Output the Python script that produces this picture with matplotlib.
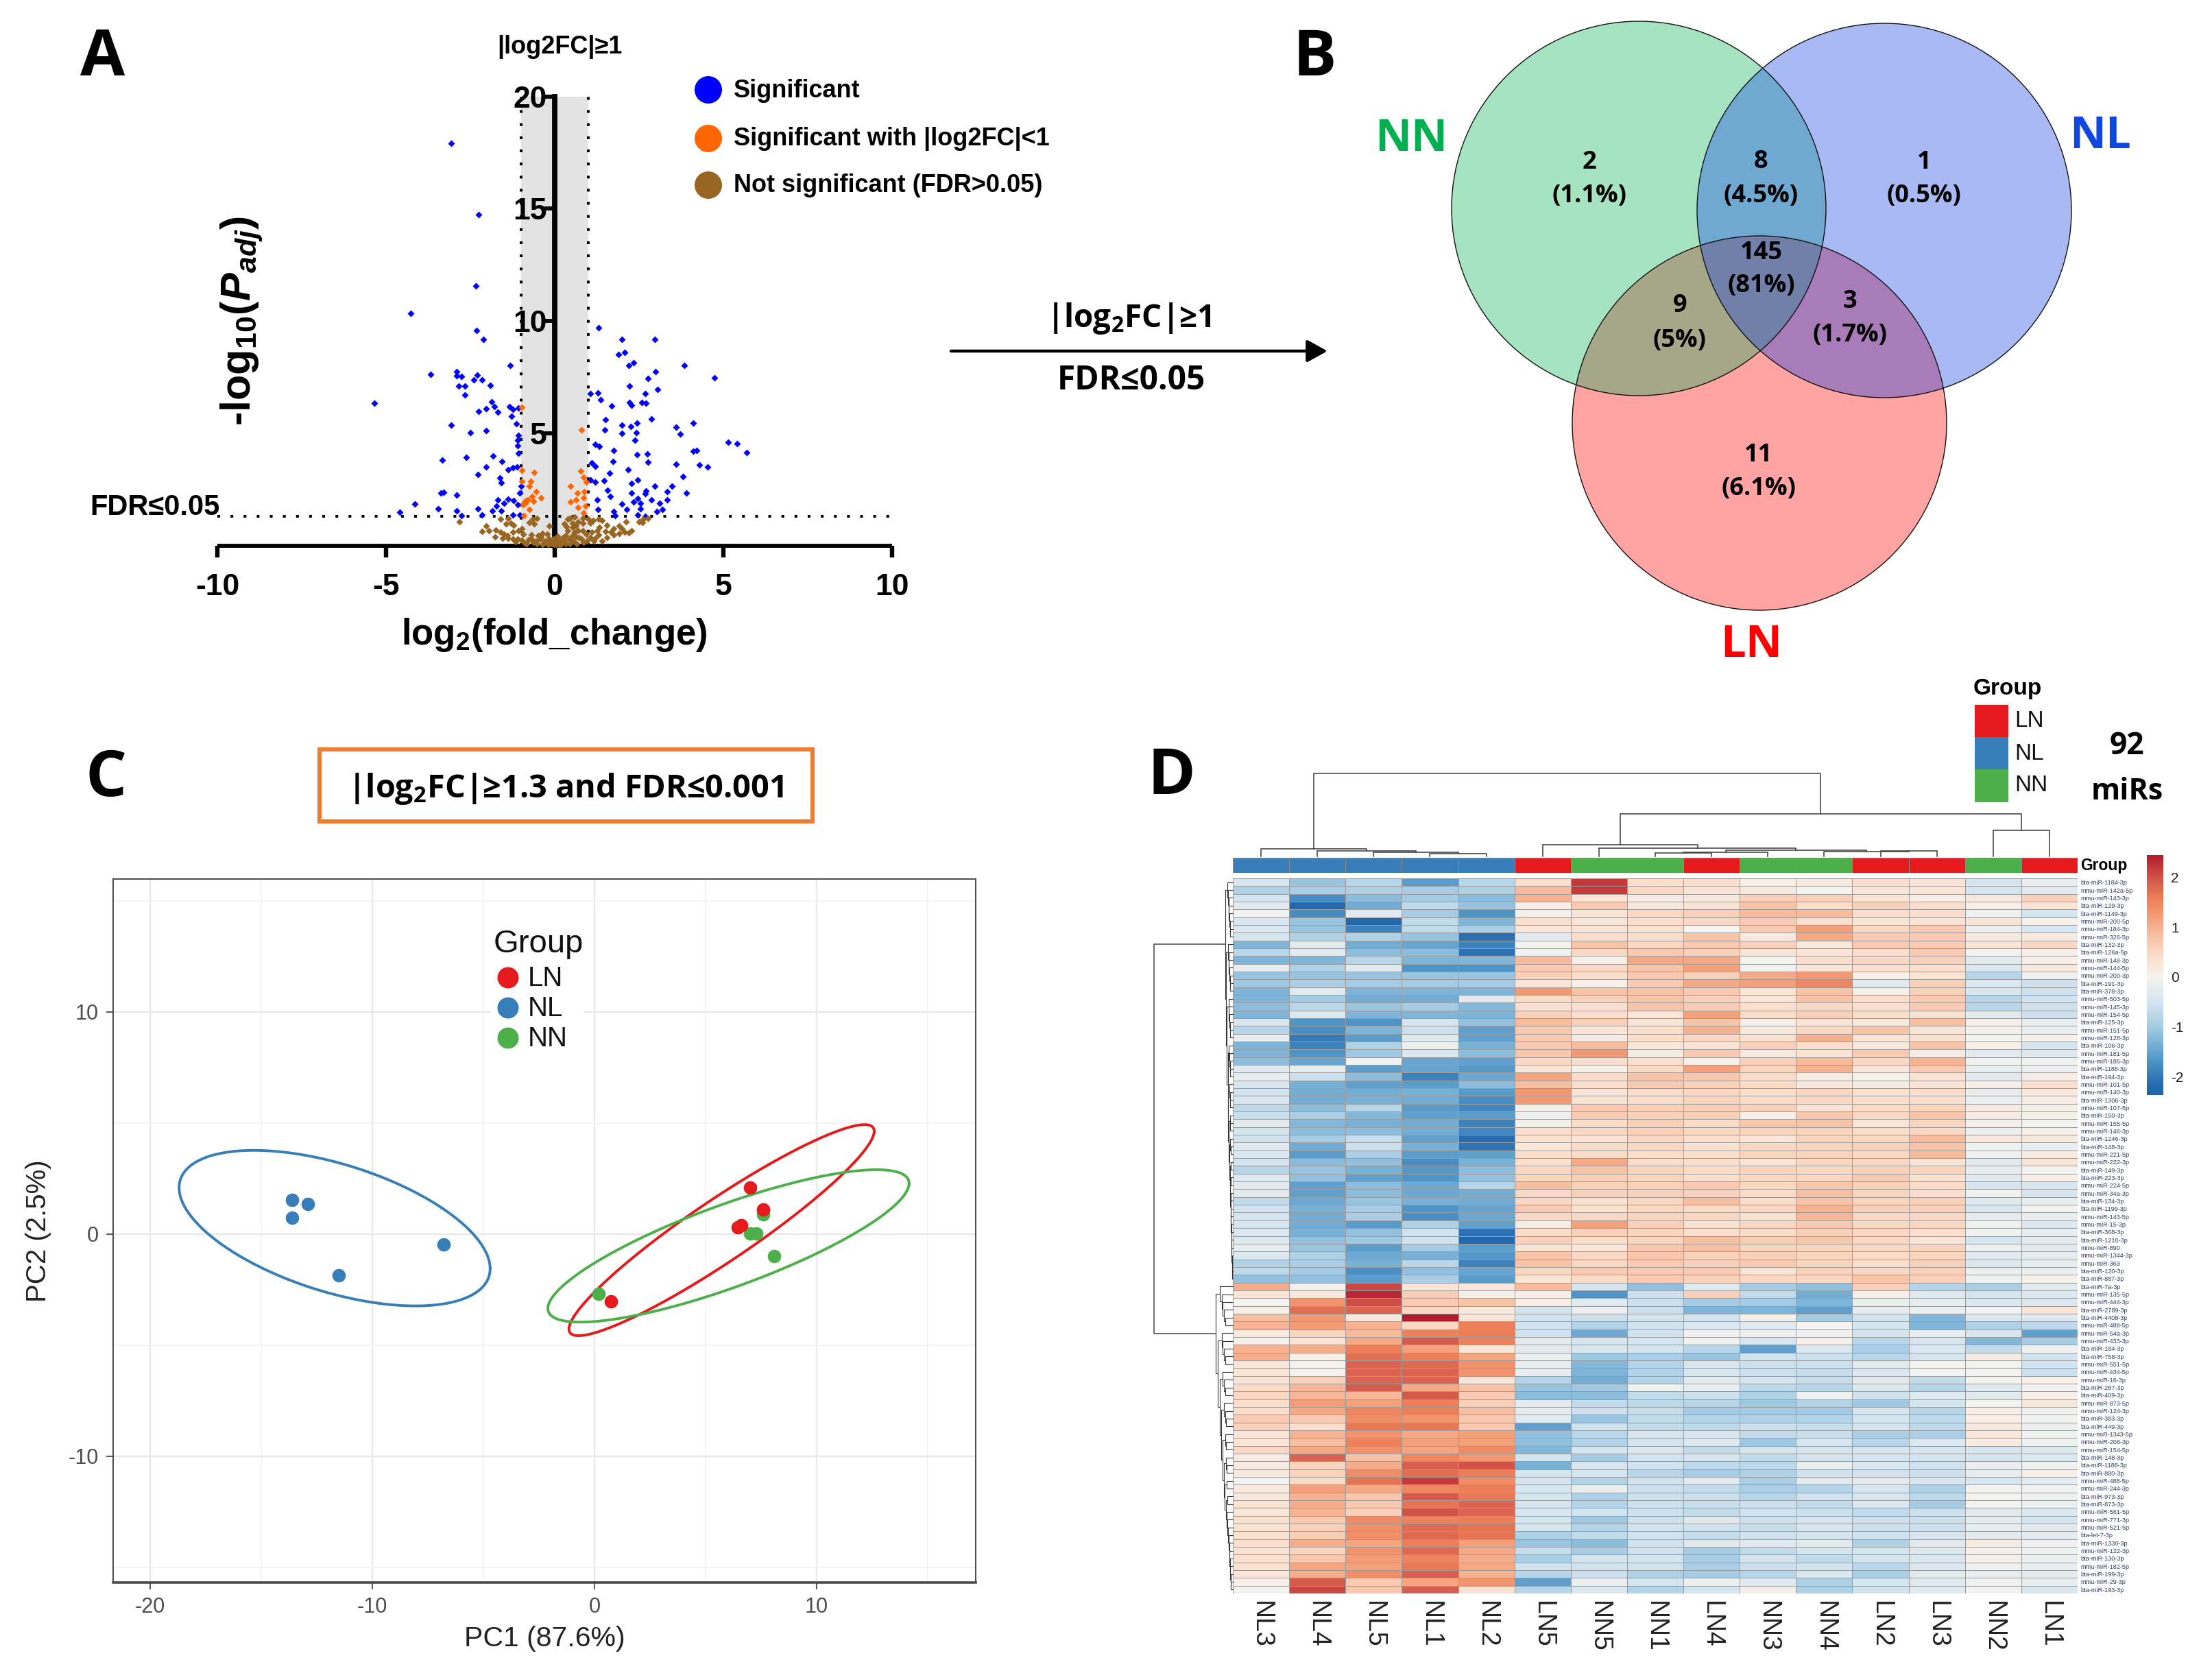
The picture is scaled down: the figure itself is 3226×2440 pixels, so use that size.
import numpy as np
import matplotlib
matplotlib.use("Agg")
import matplotlib.pyplot as plt
from matplotlib.colors import LinearSegmentedColormap, ListedColormap
from matplotlib.patches import Circle, Rectangle, Polygon

W, H = 3226, 2440
plt.rcParams.update({
    "font.family": ["Liberation Sans", "DejaVu Sans"],
    "axes.unicode_minus": False,
    "mathtext.fontset": "custom",
    "mathtext.rm": "Open Sans:bold",
    "mathtext.bf": "Liberation Sans:bold",
    "mathtext.it": "Liberation Sans:italic",
    "mathtext.bfit": "Liberation Sans:italic:bold",
})

# ---------- Panel A: volcano (log2FC, -log10 Padj) ----------
SIG_POINTS = [(-3.07,17.9),(-2.26,14.75),(-2.33,11.58),(-4.26,10.35),(-2.32,9.58),(-2.12,9.2),(1.30,9.71),(2.0,9.2),(2.96,9.2),(-5.35,6.35),(-4.6,1.5),
 (-3.68,7.63),(-2.90,7.76),(-2.91,7.58),(-2.76,7.53),(-2.30,7.60),(-2.39,7.38),(-2.15,7.38),(-1.92,7.14),(-2.85,7.10),(-2.66,7.11),(-2.66,6.71),(-1.32,8.04),
 (-1.88,6.42),(-1.78,6.18),(-1.68,5.96),(-2.04,6.09),(-2.26,5.97),(-1.34,6.2),(-1.24,6.08),(-1.07,6.13),(-1.29,5.76),(-1.14,5.43),(-3.07,5.38),(-2.51,5.05),
 (-2.04,5.14),(-1.07,4.92),(-1.10,4.71),(-1.10,4.46),(-1.07,4.12),(-3.34,3.80),(-2.63,3.94),(-1.83,4.0),(-1.57,3.76),(-2.04,3.51),(-2.27,3.18),(-1.38,3.38),
 (-1.24,3.48),(-1.12,3.50),(-1.63,3.02),(-1.59,2.82),(-3.37,2.36),(-3.30,2.37),(-2.90,2.25),(-1.68,2.05),(-1.38,2.09),(-1.21,2.0),(-1.51,1.90),(-1.04,2.36),(-1.0,2.66),
 (-1.10,1.84),(-1.73,1.76),(-1.85,1.56),(-3.46,1.64),(-2.90,1.56),(-2.28,1.64),(-1.59,1.56),(-4.15,1.86),(-2.15,1.36),(-2.76,1.33),(-1.24,1.36),(-1.04,1.38),
 (1.90,8.50),(2.08,8.61),(2.20,8.04),(2.34,8.15),(2.99,7.74),(3.84,8.04),(2.77,7.45),(4.74,7.48),(2.22,7.11),(3.05,6.96),(1.06,6.78),(1.29,6.82),(2.68,6.78),
 (1.36,6.50),(2.22,6.37),(2.27,6.25),(2.59,6.37),(2.70,6.35),(1.69,6.24),(1.51,5.61),(2.87,5.64),(2.0,5.37),(2.26,5.31),(2.43,5.46),(1.48,5.17),(2.0,4.99),
 (2.41,5.02),(2.38,4.70),(3.59,5.28),(4.11,5.45),(3.71,4.96),(1.19,4.51),(1.33,4.41),(1.74,4.23),(5.15,4.60),(5.40,4.56),(5.70,4.15),(2.44,4.05),(2.74,4.10),
 (4.11,4.22),(4.21,4.25),(2.77,3.72),(1.73,3.76),(1.10,3.69),(1.20,3.53),(3.59,3.63),(4.28,3.59),(4.54,3.51),(2.17,3.38),(1.62,3.22),(3.81,3.07),(1.06,2.92),
 (1.20,2.85),(1.46,2.89),(2.45,2.92),(2.28,2.77),(2.96,2.66),(3.48,2.64),(1.56,2.48),(2.28,2.36),(2.70,2.44),(3.33,2.41),(3.91,2.34),(1.65,2.20),(2.69,2.31),
 (1.27,2.05),(2.45,2.10),(2.34,1.95),(2.86,2.05),(3.33,2.05),(2.55,1.90),(3.10,1.88),(2.0,1.86),(2.13,1.61),(2.55,1.64),(1.28,1.62),(3.2,1.61),(3.03,1.54),
 (1.75,1.52),(1.78,1.33),(2.45,1.36),(2.68,1.31)]
LOWFC_POINTS = [(-.98,6.15),(.79,5.17),(-.98,3.36),(-.60,3.26),(.77,3.34),(.86,3.05),(.93,2.84),(-.98,2.87),(-.71,2.87),(-.75,2.66),(.47,2.64),(-.54,2.41),
 (-.68,2.20),(.67,2.36),(.87,2.41),(-.41,2.13),(-.80,2.05),(-.64,1.98),(-.90,1.95),(.64,2.05),(.85,2.13),(.47,1.95),(-.93,1.82),(.91,1.77),(.70,1.71),
 (-.76,1.61),(-.92,1.33),(.86,1.45),(-.85,2.0),(-.87,1.9)]
NS_POINTS = [(-2.83,1.08),(-1.61,1.18),(-1.38,1.23),(-1.31,1.02),(-1.21,.92),(-.66,1.18),(-.53,1.21),(-.60,.97),(-2.04,.87),(-2.15,.64),(-1.96,.67),(-1.75,.70),
 (-1.77,.39),(-1.51,.53),(-1.54,.33),(-1.38,.33),(-1.24,.61),(-1.07,.67),(-.97,.77),(-.93,.51),(-1.10,.31),(-1.24,.29),(-.97,.23),(-.77,.26),(-.63,.15),(-.49,.46),
 (-.36,.56),(-.16,.87),(-.22,.51),(-.43,.31),(-.29,.20),(-.16,.31),(-.09,.10),(-.02,.05),(-.36,.05),(-.53,.10),(-.83,.10),(-.19,.05),(.05,.05),(.18,.20),(.25,.36),
 (.28,.97),(.45,1.23),(.59,1.28),(.52,1.02),(.69,1.08),(.83,1.02),(.83,1.23),(1.0,1.18),(1.13,1.13),(1.30,1.18),(1.40,1.13),(.52,.82),(.39,.67),(.69,.67),(.83,.67),
 (.52,.46),(.32,.46),(.72,.36),(.93,.51),(.45,.10),(.18,.05),(.66,.10),(.86,.15),(1.20,.33),(1.06,.36),(1.40,.20),(1.54,.36),(1.67,.61),(1.33,.82),(1.54,.92),
 (1.74,.77),(1.91,.87),(1.91,.56),(2.11,1.08),(2.08,.61),(2.28,.67),(2.49,1.08),(2.62,1.18),(2.76,1.23),(.39,1.18),(.12,.05),(.32,.08),(.55,.22),(-.7,.3),(-.55,.2),
 (-.9,.12),(-1.15,.18),(-.25,.12),(-.12,.2),(.1,.28),(.28,.22),(.42,.3),(.62,.4),(.8,.3),(.95,.2),(1.15,.2),(1.3,.5),(1.1,.62),(1.25,.68),(-1.4,.45),(-1.6,.6),
 (-.4,.4),(-.7,.5),(.02,.15),(.08,.42),(-.05,.32),(1.5,.65),(1.75,.5),(2.0,.75),(2.2,.58),(2.6,1.05),(.58,.62),(.35,.85),(.62,.9),(1.05,1.0),(-1.45,.98),(-.75,1.05)]
SIG_COLOR, LOWFC_COLOR, NS_COLOR = "#0000ff", "#ff6600", "#996622"
VOLCANO_LEGEND = ["Significant", "Significant with |log2FC|<1", "Not significant (FDR>0.05)"]
VOLCANO_XTICKS = [-10, -5, 0, 5, 10]
VOLCANO_YTICKS = [5, 10, 15, 20]

# ---------- Panel B: Venn ----------
VENN_LABELS = [("2", "(1.1%)", 2318, 233, 282), ("8", "(4.5%)", 2568, 232, 282), ("1", "(0.5%)", 2806, 233, 282),
               ("145", "(81%)", 2569, 365, 413), ("9", "(5%)", 2450, 442, 493), ("3", "(1.7%)", 2698, 436, 485),
               ("11", "(6.1%)", 2565, 660, 709)]

# ---------- Panel C: PCA ----------
PCA_LN = [(7.0, 2.1), (7.6, 1.1), (6.6, .39), (6.44, .31), (.75, -3.02)]
PCA_NL = [(-13.6, 1.53), (-12.9, 1.37), (-13.6, .75), (-11.5, -1.84), (-6.8, -.45)]
PCA_NN = [(7.6, .9), (7.0, .02), (7.27, .04), (8.07, -1.0), (.17, -2.69)]
# centre x, centre y, half extent x, half extent y, correlation
ELLIPSE_LN = (5.72, .18, 6.87, 4.75, .937)
ELLIPSE_NL = (-11.7, .27, 7.0, 3.5, -.52)
ELLIPSE_NN = (6.03, -.53, 8.13, 3.43, .82)
GROUP_COLORS = {"LN": "#e41a1c", "NL": "#377eb8", "NN": "#4daf4a"}
PCA_TICKS_X = [-20, -10, 0, 10]
PCA_TICKS_Y = [-10, 0, 10]

# ---------- Panel D: heatmap ----------
SAMPLES = ["NL3","NL4","NL5","NL1","NL2","LN5","NN5","NN1","LN4","NN3","NN4","LN2","LN3","NN2","LN1"]
HEAT_UP = [
[-.45,-1.1,-.8,-1.6,-.8,.4,2.2,.4,.4,.1,.2,.4,.3,-.5,-.2],
[-.9,-.95,-.9,-1,-.9,.9,2.2,.5,.3,.2,0,.3,.3,-.5,-.3],
[-.5,-1.8,-1.2,-1,-1.2,1.0,.3,.15,.2,.6,.6,.3,.1,.2,.6],
[-.3,-2.2,-1.4,-.7,-1.1,.1,.7,.2,.3,.8,.4,.6,.4,.1,.3],
[-.05,-1.8,-.3,-1,-1.7,.05,.3,.5,.6,.9,.9,.4,.4,-.1,-.5],
[-.45,-1.1,-2.2,-.7,-1.3,.4,.3,.4,.5,.7,.4,.3,.3,.3,.05],
[-.4,-1.1,-1.9,-.7,-.95,.25,.3,.35,0,.7,1.2,.5,.7,-.15,-.45],
[-.5,-.9,-.9,-1.1,-2.1,-.3,.4,.4,.8,.2,1.1,.7,.7,.2,.2],
[-1.3,-.3,-1.4,-1.5,-1.9,0,.8,.5,.7,.6,.2,.7,.7,.3,.5],
[-.8,-.3,-1.2,-1.2,-2.1,-.1,.5,.7,.6,.3,.3,.4,.7,-.05,.1],
[-1.3,-1.3,-.8,-1.3,-1.3,.9,.1,1.1,1.1,0,.4,.5,.6,-.3,.1],
[-.2,-.9,-.3,-1.7,-1.7,.7,.5,.8,1.2,-.1,.3,.4,.4,-.4,.2],
[-1.1,-1.1,-1.1,-1.1,-1.1,.6,.4,.7,.6,1.1,1.3,.1,.3,-.8,-.1],
[-1.05,-.95,-1,-1,-1,.3,.05,.7,1.1,1.2,1.5,-.3,.6,-.4,-.6],
[-1.3,-.3,-1.3,-1.3,-1.3,1.3,.8,.8,.7,.3,.8,.1,.6,-.45,-.6],
[-1.3,-1,-1.4,-1.4,-.3,.45,.6,.8,.6,.3,.8,.4,.7,-.8,-.55],
[-1.2,-.8,-1.1,-1,-1.25,.4,.4,.8,.7,.4,.5,.4,.7,-.8,-.6],
[-1.3,-.4,-1.3,-1.3,-1.3,.6,.4,.3,1.2,.45,.6,.45,.35,-.3,-.6],
[-.45,-1.7,-1.7,-.5,-1.15,.9,.6,.3,.8,.1,.3,.2,.85,.05,-.2],
[-.8,-1.75,-1.3,-.6,-1.55,.7,.3,.4,1,.2,.5,.8,.3,.05,-.2],
[-.2,-2,-1.6,-.35,-1.55,.7,.15,.4,.5,.35,1.0,.3,.35,-.05,.05],
[-1.3,-1.9,-.9,-.15,-1.35,.7,.9,.25,.3,.6,.4,.2,.8,.1,-.5],
[-1.3,-1.7,-1.05,-.45,-1.2,.75,1.3,.15,.7,.2,.3,.7,.15,-.3,-.35],
[-1.2,-1.5,-.1,-1.5,-1.55,.5,.4,.4,.05,.6,.9,.5,1.0,-.1,-.1],
[-.3,-.2,-1.6,-1.5,-1.65,.25,.05,.45,1.2,.55,1.0,.25,.7,-.2,-.15],
[-.25,-.6,-1.2,-1.9,-1.45,1.15,.45,.8,.75,.45,.15,.05,.35,-.3,.15],
[-.45,-1.35,-1.55,-1.6,-1.2,.85,.4,.7,.6,.45,.2,.15,.25,.1,.4],
[-.55,-1.4,-1.4,-1.35,-1.6,1.3,.3,.4,.5,.4,.5,.35,.4,-.2,.2],
[-.45,-1.4,-1.35,-1.4,-1.75,1.3,.35,.4,.55,.45,.5,.4,.4,-.15,.15],
[-.75,-1.2,-.8,-1.6,-1.85,.05,.7,.6,.65,.6,.3,.45,.55,.15,.1],
[-.65,-.95,-1.25,-1.55,-1.6,-.15,.7,.6,.65,.1,.75,.5,.8,.15,.05],
[-.3,-1.25,-1.35,-1.4,-1.9,.05,.45,.6,.45,.75,.8,.3,.55,.05,-.05],
[-.5,-1.2,-1.2,-1.4,-1.85,.4,.5,.6,.5,.55,.55,.45,.5,-.15,.05],
[-.55,-1,-.65,-1.55,-2.15,.35,.3,.5,.4,.25,.55,.5,.9,.2,.2],
[-.35,-1.4,-.6,-1.35,-2.05,.25,.45,.5,.35,.5,.55,.6,.8,-.1,-.2],
[-.4,-1.6,-.95,-1.6,-1.55,.4,.45,.4,.4,.55,.55,.5,.9,-.1,.15],
[-.5,-1.2,-1.15,-1.8,-1.35,.4,1.1,.4,.4,.3,.5,.5,.3,-.3,.3],
[-.85,-1.1,-1.35,-1.65,-1.2,.5,.8,.55,.45,.55,.5,.6,.55,-.25,-.05],
[-.35,-1.15,-1.55,-1.7,-1.15,.55,.6,.55,.4,.5,.5,.7,.35,-.3,.1],
[-.3,-1.55,-1.2,-1.45,-.8,.85,.6,.6,.7,.5,.75,.6,.45,-.5,-.45],
[-.3,-1.55,-1.2,-1.45,-1.4,.5,.6,.6,.6,.45,.85,.55,.4,-.1,-.45],
[-.7,-1.45,-1.1,-1.35,-1.4,.5,.35,.5,.85,.4,.8,.55,.6,-.35,-.2],
[-.55,-1.35,-1,-1.7,-1.5,.7,.35,.5,.45,.5,1.0,.6,.6,-.45,-.05],
[-.5,-1.4,-.95,-1.75,-1.45,.5,.5,.55,.5,.35,.95,.5,.5,-.25,-.2],
[-.5,-1.4,-1.6,-.9,-1.55,.15,1.2,.6,.35,.5,.7,.5,.5,-.1,-.4],
[-.4,-1.35,-1.15,-.55,-2.1,.45,.6,.55,.4,.45,.6,.5,.4,-.1,-.2],
[-.4,-1.15,-1.05,-.55,-2.2,.6,.45,.55,.85,.65,.75,.5,.3,-.5,-.3],
[-.25,-1.1,-1.6,-1,-1.6,.3,.25,.75,.85,.55,.55,.5,.55,-.15,-.3],
[-.4,-.9,-1.45,-1.35,-1.65,.8,.5,.75,.6,.6,.55,.45,.55,-.35,-.25],
[-.9,-.95,-1.35,-.8,-1.9,.8,.5,.7,.6,.7,.55,.4,.6,-.4,-.2],
[-.75,-1,-1.75,-1.15,-1.5,.5,.7,.7,.7,.3,.6,.5,.6,-.15,-.15],
[-1.15,-1.15,-1.6,-.95,-1.6,.3,.45,.7,.6,.5,.5,.8,.6,-.1,.05],
]
HEAT_DOWN = [
[1.05,.05,2.1,.3,.25,.9,-.5,-1.15,-.35,-1,-1.15,.6,-.85,-.95,-.3],
[.3,.2,2.35,.65,.05,.1,-1.7,-.6,.6,-.7,-1.4,.1,-.35,-.5,-.4],
[0,1.35,2.05,.7,.8,.1,-.35,-.6,-1,-1,-1.3,-.15,-.2,-.4,-.4],
[.1,1.75,1.85,.5,.2,-.5,-.15,-.6,-1.3,-1.3,-1.55,-.2,-.15,-.05,.3],
[.85,1.3,.2,2.45,.25,-.55,-.6,-.5,-.55,.05,-1,-.55,-1.25,-.4,-.35],
[1.0,1.25,1,.5,1.6,-.55,-.85,-.55,-.4,-.35,0,-.5,-1.3,-.9,-.75],
[.2,.55,.9,1.55,1.6,-.55,-1.45,-.55,-.1,-.1,-.1,-.5,-.2,-.45,-1.55],
[.1,.3,1.1,1.95,1.55,-.3,-.5,-.5,-.1,-.45,.05,-.8,-.5,-1.25,-1],
[1.0,1.05,1.6,1.2,.25,-.3,-.45,-.5,-.8,-1.55,-.4,-.95,-.4,-.7,-.1],
[1.05,.1,1.75,1.6,1.15,-.15,-1.05,-.95,-1.1,-.55,-.6,-.8,-.5,.15,-.55],
[.3,0,1.85,1.8,1.35,-.2,-1.25,-.85,-.45,-.6,-.6,-.3,0,-.05,-.55],
[.3,0,1.85,1.85,1.35,-.2,-1.3,-.85,-.45,-.6,-.65,-.4,-.05,-.05,-.6],
[.3,.6,1.85,1.85,.3,-.85,-1.4,-.85,-.3,-.5,-.65,-.3,-.7,-.05,.1],
[.45,.95,1.95,1.1,.8,-1.1,-1.05,-.1,-.2,-.75,-.8,-.4,-.8,-.35,-.05],
[.5,.95,.95,1.95,.7,-1.2,-1.2,-.7,-.6,-.9,-.1,-.55,-.35,-.3,.1],
[.4,1.25,1.2,1.6,.6,-.25,-.7,-.75,-.8,-1.05,-.85,-1.05,-.5,-.05,.25],
[.4,1.1,1.5,1.6,.85,-.25,-.6,-.65,-1,-1,-1,-.45,-.8,.1,-.1],
[.7,.7,1.45,1.35,.75,-.35,-1.1,-.7,-.85,-.9,-.85,-.5,-.75,.1,-.05],
[.6,.4,1.65,1.65,.7,-1.55,-.55,-.7,-.75,-.6,-.65,-.5,-.75,.2,-.15],
[.3,1.0,1.35,1.1,1.2,-1.15,-.8,-.5,-.45,-.7,-.65,-.95,-.95,.25,-.1],
[.3,.85,1.55,1.2,1.2,-1.15,-.85,-.5,-.35,-1.05,-.45,-.8,-.4,.15,-.1],
[.5,1.1,1.4,1.15,1.45,-1.25,-.5,-.4,-.7,-.5,-.5,-.5,-.5,-.5,-.4],
[.15,1.85,.8,1.5,1.3,-.5,-1,-.55,-.45,-.7,-.5,-.5,-.5,-.5,-.4],
[.15,.55,1.05,1.9,2.0,-1.35,-.45,-.55,-.75,-.75,-.2,-.4,-.55,-.15,-.1],
[.2,.55,1.45,1.75,1.6,-.5,-.5,-.8,-1,-.9,-.55,-.55,-.6,-.25,.1],
[-.05,.45,1.7,2.2,1.45,-.5,-.85,-.55,-.3,-.95,-.3,-.25,-.45,-.45,-.25],
[.2,1.2,1.1,1.5,1.6,-.45,-.2,-.6,-.7,-.95,-.85,-.5,-.9,-.05,-.1],
[.2,1,.75,1.95,1.65,-.5,-.9,-.6,-.6,-.8,-.55,-.45,-.75,0,-.1],
[.35,1.05,.7,1.7,1.85,-.5,-.85,-.6,-.65,-.6,-.7,-.4,-1,-.05,-.15],
[.25,1,.6,2,1.85,-.45,-.55,-.6,-.7,-.55,-.6,-.7,-.6,-.3,-.4],
[.35,.7,1.45,1.55,1.6,-.5,-1.05,-.6,-.3,-.6,-.5,-.6,-.6,-.25,-.5],
[.35,.6,1.4,1.8,1.7,-.5,-.85,-.55,-.55,-.65,-.45,-.6,-.6,-.25,-.3],
[.35,.65,1.4,1.8,1.7,-.9,-.7,-.55,-.65,-.55,-.5,-.55,-.45,-.3,-.25],
[.4,1.05,1.15,1.6,1.2,-1.1,-1.2,-.55,-.3,-.3,-.3,-.9,-.3,.15,-.1],
[.35,.55,1.35,1.8,1.1,-.65,-.95,-.55,-1,-.7,-.5,-.5,-.4,.05,-.1],
[.35,.75,1.25,1.55,1.05,-.95,-.5,-.5,-.95,-.5,-.7,-.5,-.4,.05,-.15],
[.35,1.15,1.2,1.65,1.1,-.55,-.55,-.55,-.95,-.6,-.55,-.8,-.4,-.1,-.2],
[.25,1.05,1.4,1.9,1,-.8,-.6,-.9,-1,-.8,-.4,-.95,-.3,-.2,-.25],
[.1,1.95,.7,1.15,1.35,-1.55,-.15,-.5,-.15,-.3,-.9,-.5,-.35,-.1,-.2],
[-.05,2.1,.75,1.9,.35,-.8,-.4,-.85,-.5,.05,-.9,-.55,-.3,-.05,-.45],
]
ROW_LABELS = ["bta-miR-1184-3p","mmu-miR-142a-5p","mmu-miR-143-3p","bta-miR-129-3p","bta-miR-1149-3p","mmu-miR-200-5p","mmu-miR-184-3p","mmu-miR-326-5p",
 "bta-miR-132-3p","bta-miR-126a-5p","mmu-miR-148-3p","mmu-miR-144-5p","mmu-miR-200-3p","bta-miR-191-3p","bta-miR-378-3p","mmu-miR-503-5p",
 "mmu-miR-145-3p","mmu-miR-154-5p","bta-miR-125-3p","mmu-miR-151-5p","mmu-miR-128-3p","bta-miR-106-3p","mmu-miR-181-5p","mmu-miR-186-3p",
 "bta-miR-1188-3p","bta-miR-194-3p","mmu-miR-101-5p","mmu-miR-140-3p","bta-miR-1306-3p","mmu-miR-107-5p","bta-miR-150-3p","mmu-miR-155-5p",
 "mmu-miR-146-3p","bta-miR-1246-3p","bta-miR-148-3p","mmu-miR-221-5p","mmu-miR-222-3p","bta-miR-149-3p","bta-miR-223-3p","mmu-miR-224-5p",
 "mmu-miR-34a-3p","bta-miR-134-3p","bta-miR-1199-3p","mmu-miR-143-5p","mmu-miR-15-3p","bta-miR-368-3p","bta-miR-1210-3p","mmu-miR-890",
 "mmu-miR-1344-3p","mmu-miR-363","bta-miR-120-3p","bta-miR-887-3p","bta-miR-7a-3p","mmu-miR-135-5p","mmu-miR-444-3p","bta-miR-2789-3p",
 "bta-miR-4408-3p","mmu-miR-488-5p","mmu-miR-54a-3p","mmu-miR-433-3p","bta-miR-164-3p","bta-miR-758-3p","mmu-miR-551-5p","mmu-miR-434-5p",
 "mmu-miR-16-3p","bta-miR-287-3p","bta-miR-409-3p","mmu-miR-873-5p","mmu-miR-124-3p","bta-miR-383-3p","bta-miR-449-3p","mmu-miR-1343-5p",
 "mmu-miR-206-3p","mmu-miR-154-5p","bta-miR-148-3p","bta-miR-1188-3p","bta-miR-880-3p","mmu-miR-488-5p","mmu-miR-244-3p","bta-miR-973-3p",
 "bta-miR-873-3p","mmu-miR-561-5p","mmu-miR-771-3p","mmu-miR-521-5p","bta-let-7-3p","bta-miR-1330-3p","mmu-miR-122-3p","bta-miR-130-3p",
 "mmu-miR-182-5p","bta-miR-199-3p","mmu-miR-29-3p","bta-miR-193-3p"]
# children (leaf column index or earlier merge id as "m<n>"), height above the annotation bar
TOP_TREE = [(3, 4, 4), (2, "m0", 6), (1, "m1", 8), (0, "m2", 11),
            (11, 12, 8), (10, "m4", 7), (7, 8, 5), ("m6", 9, 6), ("m7", "m5", 9), (6, "m8", 12), (5, "m9", 17),
            (13, 14, 38), ("m10", "m11", 62), ("m3", "m12", 121)]
CBAR_TICKS = [-2, -1, 0, 1, 2]
HEAT_ANCHORS = [(-2.37,"#2166ac"),(-2.2,"#2468ae"),(-1.7,"#4f94c6"),(-1.3,"#7fb5d8"),(-1.0,"#a5cce4"),(-.5,"#d5e5f0"),(0,"#f5f3f0"),
                (.4,"#fbdfcc"),(.8,"#f8c4a8"),(1.2,"#f4a07a"),(1.6,"#ec7f58"),(1.95,"#d45a4c"),(2.2,"#c53a3a"),(2.45,"#b01c2e")]

OS = ["Open Sans", "DejaVu Sans"]
fig = plt.figure(figsize=(W / 100, H / 100), dpi=100, facecolor="white")


def ax_px(x0, y0, x1, y1, **kw):
    return fig.add_axes([x0 / W, 1 - y1 / H, (x1 - x0) / W, (y1 - y0) / H], **kw)


ov = fig.add_axes([0, 0, 1, 1], zorder=10)
ov.set_xlim(0, W); ov.set_ylim(H, 0); ov.axis("off"); ov.patch.set_alpha(0)

# ---- Panel A ----
a = ax_px(317, 140.6, 1301, 796)
a.set_xlim(-10, 10); a.set_ylim(0, 20)
a.patch.set_alpha(0)
a.axvspan(-1, 1, color="#e3e3e3", lw=0, zorder=0)
for s in ["top", "right"]:
    a.spines[s].set_visible(False)
a.spines["left"].set_position(("data", 0))
a.spines["left"].set_linewidth(5.6)
a.spines["bottom"].set_linewidth(4.2)
a.spines["bottom"].set_capstyle("butt")
a.set_xticks(VOLCANO_XTICKS); a.set_yticks(VOLCANO_YTICKS)
a.tick_params(axis="x", width=4.6, length=12, labelsize=32, pad=17)
a.tick_params(axis="y", width=4.2, length=11, labelsize=32, pad=-3)
for t in a.get_xticklabels() + a.get_yticklabels():
    t.set_fontweight("bold")
dot = (0, (1, 3.75))
a.plot([-1, -1], [0, 20], color="k", lw=2.9, ls=dot, zorder=1)
a.plot([1, 1], [0, 20], color="k", lw=2.9, ls=dot, zorder=1)
a.plot([-10, 10], [1.3, 1.3], color="k", lw=2.9, ls=dot, zorder=1, clip_on=False)
for pts, col in ((SIG_POINTS, SIG_COLOR), (LOWFC_POINTS, LOWFC_COLOR), (NS_POINTS, NS_COLOR)):
    xs, ys = zip(*pts)
    a.scatter(xs, ys, s=26, color=col, marker="D", lw=0, zorder=5, clip_on=False)
ov.text(808, 926, r"log$_{\mathbf{2}}$(fold_change)", fontsize=38, fontweight="bold", ha="center", va="center")
ov.text(353, 468, r"-log$_{\mathbf{10}}$($\mathbfit{P}_{\mathbfit{adj}}$)", fontsize=44, fontweight="bold",
        rotation=90, ha="center", va="center")
ov.text(816, 69, "|log2FC|≥1", fontsize=26, fontweight="bold", ha="center", va="center")
ov.text(226, 740, "FDR≤0.05", fontsize=30, fontweight="bold", ha="center", va="center")
for lab, col, y in zip(VOLCANO_LEGEND, (SIG_COLOR, LOWFC_COLOR, NS_COLOR), (131, 202, 270)):
    ov.add_patch(Circle((1033, y), 20, color=col, lw=0))
    ov.text(1070, y + 1, lab, fontsize=26, fontweight="bold", va="center")
for lab, x, y in (("A", 150, 86), ("B", 1917, 86), ("C", 155, 1136), ("D", 1709, 1134)):
    ov.text(x, y, lab, fontsize=68, fontweight="bold", family=OS, ha="center", va="center")

# arrow
ov.annotate("", xy=(1936, 512), xytext=(1387, 512),
            arrowprops=dict(arrowstyle="-|>,head_length=1.0,head_width=0.55", lw=3.2, color="k", shrinkA=0, shrinkB=0, mutation_scale=18))
ov.text(1646, 464, r"|log$_{\mathrm{2}}$FC|≥1", fontsize=33, fontweight="bold", family=OS, ha="center", va="center")
ov.text(1650, 556, "FDR≤0.05", fontsize=34.5, fontweight="bold", family=OS, ha="center", va="center")

# ---- Panel B ----
C_NN, C_NL, C_LN = (2390, 304), (2748, 307), (2566, 617)
R = 273
c_nn = Circle(C_NN, R, fc="#a6e3c1", ec="none")
c_nl = Circle(C_NL, R, fc="#a9b9f3", ec="none")
c_ln = Circle(C_LN, R, fc="#ffa3a3", ec="none")
for c in (c_nn, c_nl, c_ln):
    ov.add_patch(c)
for c1, c2, col in ((C_NL, c_nn, "#6fa8d0"), (C_LN, c_nn, "#a6a688"), (C_LN, c_nl, "#a87cb8")):
    p = Circle(c1, R, fc=col, ec="none")
    ov.add_patch(p)
    p.set_clip_path(c2)
t = np.radians(np.arange(0, 360, 0.5))
def circ(c):
    return np.c_[c[0] + R * np.cos(t), c[1] + R * np.sin(t)]
def inside(p, c):
    return (p[:, 0] - c[0]) ** 2 + (p[:, 1] - c[1]) ** 2 < R ** 2
p1, p2 = circ(C_NN), circ(C_NL)
lens = np.vstack([p1[inside(p1, C_NL)], p2[inside(p2, C_NN)]])
ang = np.arctan2(lens[:, 1] - lens[:, 1].mean(), lens[:, 0] - lens[:, 0].mean())
tri = Polygon(lens[np.argsort(ang)], closed=True, fc="#7080a8", ec="none")
ov.add_patch(tri)
tri.set_clip_path(c_ln)
for c in (C_NN, C_NL, C_LN):
    ov.add_patch(Circle(c, R, fc="none", ec="#111111", lw=1.0))
for n, pct, x, y1, y2 in VENN_LABELS:
    ov.text(x, y1 + 4, n, fontsize=26, fontweight="bold", family=OS, ha="center", va="center")
    ov.text(x, y2 + 4, pct, fontsize=26, fontweight="bold", family=OS, ha="center", va="center")
ov.text(2058, 203, "NN", fontsize=47, fontweight="bold", family=OS, color="#00b050", ha="center", va="center")
ov.text(3018, 199, "NL", fontsize=47, fontweight="bold", family=OS, color="#0f47e0", ha="left", va="center")
ov.text(2554, 941, "LN", fontsize=47, fontweight="bold", family=OS, color="#ff0000", ha="center", va="center")

# ---- Panel C ----
c = ax_px(165, 1281.5, 1423, 2308)
c.set_xlim(-21.67, 17.16); c.set_ylim(-15.68, 16.0)
c.set_xticks(PCA_TICKS_X); c.set_yticks(PCA_TICKS_Y)
c.set_xticks([-15, -5, 5, 15], minor=True); c.set_yticks([-15, -5, 5, 15], minor=True)
c.grid(True, which="major", color="#e8e8e8", lw=1.6)
c.grid(True, which="minor", color="#f2f2f2", lw=1.2)
c.set_axisbelow(True)
for s in c.spines.values():
    s.set_color("#4a4a4a"); s.set_linewidth(1.4)
c.spines["bottom"].set_linewidth(2.6)
c.tick_params(which="minor", length=0)
c.tick_params(which="major", length=7, width=1.3, color="#4a4a4a", labelcolor="#4d4d4d", labelsize=22, pad=8)
for pts, ell, g in ((PCA_LN, ELLIPSE_LN, "LN"), (PCA_NL, ELLIPSE_NL, "NL"), (PCA_NN, ELLIPSE_NN, "NN")):
    cx, cy, ax_, by, rho = ell
    th = np.linspace(0, 2 * np.pi, 300)
    c.plot(cx + ax_ * np.cos(th), cy + by * (rho * np.cos(th) + np.sqrt(1 - rho ** 2) * np.sin(th)),
           color=GROUP_COLORS[g], lw=2.8, zorder=3)
for pts, g in ((PCA_NN, "NN"), (PCA_NL, "NL"), (PCA_LN, "LN")):
    xs, ys = zip(*pts)
    c.scatter(xs, ys, s=200, color=GROUP_COLORS[g], lw=0, zorder=4)
ov.add_patch(Rectangle((716, 1340), 135, 195, fc="white", ec="none"))
ov.text(720, 1377, "Group", fontsize=34, va="center", color="#111111")
for g, y in zip(("LN", "NL", "NN"), (1426, 1470, 1514)):
    ov.add_patch(Circle((741, y), 15.5, color=GROUP_COLORS[g], lw=0))
    ov.text(770, y + 1, g, fontsize=29, va="center", color="#111111")
ov.text(794, 2390, "PC1 (87.6%)", fontsize=29.5, ha="center", va="center", color="#222222")
ov.text(56, 1795, "PC2 (2.5%)", fontsize=29, rotation=90, ha="center", va="center", color="#222222")
ov.add_patch(Rectangle((466, 1093), 719, 105, fc="white", ec="#ed7d31", lw=4.4))
ov.text(825, 1151, r"|log$_{\mathrm{2}}$FC|≥1.3 and FDR≤0.001", fontsize=33.7, fontweight="bold", family=OS, ha="center", va="center")

# ---- Panel D ----
HX0, HX1, HY0, HY1 = 1798, 3030, 1281, 2324
vals = np.array(HEAT_UP + HEAT_DOWN)
lo, hi = HEAT_ANCHORS[0][0], HEAT_ANCHORS[-1][0]
cmap = LinearSegmentedColormap.from_list("heat", [((v - lo) / (hi - lo), col) for v, col in HEAT_ANCHORS], N=512)
hm = ax_px(HX0, HY0, HX1, HY1)
hm.pcolormesh(np.arange(16), np.arange(93), vals, cmap=cmap, vmin=lo, vmax=hi, edgecolors="#9c9c9c", linewidth=0.6)
hm.set_xlim(0, 15); hm.set_ylim(92, 0)
hm.set_xticks(np.arange(15) + .5); hm.set_xticklabels(SAMPLES, rotation=270, fontsize=27)
hm.set_yticks(np.arange(92) + .5); hm.set_yticklabels(ROW_LABELS, fontsize=6.6, color="#2f3f60")
hm.yaxis.tick_right()
hm.tick_params(length=0)
hm.tick_params(axis="x", pad=8, labelcolor="#222222")
hm.tick_params(axis="y", pad=3)
for s in hm.spines.values():
    s.set_visible(False)

an = ax_px(HX0, 1251, HX1, 1273)
gidx = [["LN", "NL", "NN"].index(s[:2]) for s in SAMPLES]
an.pcolormesh(np.arange(16), [0, 1], [gidx], cmap=ListedColormap([GROUP_COLORS[k] for k in ("LN", "NL", "NN")]),
              vmin=0, vmax=2, edgecolors="#8a8a8a", linewidth=0.4)
an.axis("off")
ov.text(3034, 1263, "Group", fontsize=16.5, fontweight="bold", va="center")

# column dendrogram
def col_x(v):
    return HX0 + v * (HX1 - HX0) / 15
nodes = []
def node(c):
    if isinstance(c, str):
        return nodes[int(c[1:])]
    return (c + .5, 0)
for l, r, h in TOP_TREE:
    (xl, hl), (xr, hr) = node(l), node(r)
    ov.plot([col_x(xl), col_x(xl), col_x(xr), col_x(xr)], [1249 - hl, 1249 - h, 1249 - h, 1249 - hr], color="#3a3a3a", lw=1.1, solid_joinstyle="miter")
    nodes.append(((xl + xr) / 2, h))

# row dendrogram
rh = (HY1 - HY0) / 92
def row_tree(i0, i1, h):
    n = i1 - i0
    if n == 1:
        return HY0 + (i0 + .5) * rh, 0
    k = max(1, n // 6)
    yl, hl = row_tree(i0, i0 + k, h * .75)
    yr, hr = row_tree(i0 + k, i1, h * .88)
    ov.plot([HX0 - hl, HX0 - h, HX0 - h, HX0 - hr], [yl, yl, yr, yr], color="#333333", lw=0.8, solid_joinstyle="miter")
    return (yl + yr) / 2, h
ya, xa = row_tree(0, 52, 11)
yb, xb = row_tree(52, 92, 25)
ov.plot([HX0 - xa, 1683, 1683, HX0 - xb], [ya, ya, yb, yb], color="#555555", lw=1.2)

# heatmap legends
ov.text(2878, 1005, "Group", fontsize=24, fontweight="bold", va="center")
for g, y0 in zip(("LN", "NL", "NN"), (1028, 1075, 1122)):
    ov.add_patch(Rectangle((2880, y0), 49, 47.5, fc=GROUP_COLORS[g], ec="none"))
    ov.text(2938, y0 + 24, g, fontsize=24, va="center", color="#111111")
ov.text(3102, 1089, "92", fontsize=32, fontweight="bold", family=OS, ha="center", va="center")
ov.text(3102, 1155, "miRs", fontsize=31, fontweight="bold", family=OS, ha="center", va="center")

cb = ax_px(3131, 1247, 3155, 1597)
cb.imshow(np.linspace(hi, lo, 256)[:, None], aspect="auto", cmap=cmap, vmin=lo, vmax=hi, extent=[0, 1, lo, hi])
cb.set_xticks([]); cb.yaxis.tick_right(); cb.set_yticks(CBAR_TICKS)
cb.tick_params(length=0, labelsize=15, pad=8, labelcolor="#222222")
for s in cb.spines.values():
    s.set_visible(False)

fig.savefig("out.png", dpi=100, facecolor="white")
